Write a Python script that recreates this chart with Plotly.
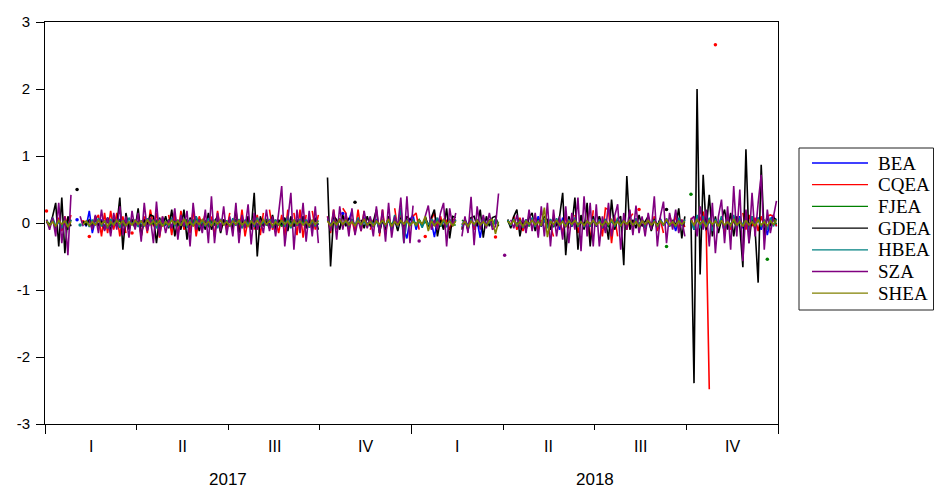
import plotly.graph_objects as go

n = None

quarter_labels = ["I", "II", "III", "IV", "I", "II", "III", "IV"]
year_labels = ["2017", "2018"]
y_ticks = [-3, -2, -1, 0, 1, 2, 3]
y_tick_text = ["-3", "-2", "-1", "0", "1", "2", "3"]
obs_per_quarter = 30

BEA = [
    .02,-.05,.05,-.08,.03,-.04,.06,-.02,.05,n,.05,n,.02,-.05,.18,-.15,.05,-.02,.04,-.06,.08,-.05,.02,-.04,.06,-.03,.05,-.08,.04,-.02,
    .03,-.05,.06,-.1,.04,-.02,.05,-.1,.08,-.03,.02,-.05,.07,-.04,.03,-.06,.05,-.02,.04,-.05,.06,-.08,.03,-.02,.05,-.04,.06,-.03,.02,-.05,
    .04,-.02,.05,-.06,.03,-.04,.08,-.05,.02,-.03,.06,-.04,.05,-.02,.03,-.06,.04,-.05,.07,-.03,.02,-.04,.05,-.06,.03,-.02,.06,-.05,.04,-.03,
    n,n,.05,-.03,.08,-.05,n,.14,n,.04,.18,n,.05,-.06,.08,-.02,.04,-.05,.06,-.1,.03,-.04,.08,-.12,.05,-.02,.06,-.08,-.23,.05,
    .12,-.1,.05,-.05,.08,-.04,.02,-.21,.06,-.03,.05,-.06,.04,-.02,.04,n,-.03,.05,-.04,.08,-.05,.03,-.22,.06,-.02,.04,-.05,.03,-.03,n,
    n,.04,-.03,.06,-.05,.02,-.04,.05,-.02,.06,-.04,.1,-.05,.03,-.02,.05,-.06,.04,-.1,.08,-.03,.02,-.05,.06,-.04,.05,-.08,.03,-.02,.04,
    -.05,.06,-.03,.04,-.06,.05,-.02,.03,-.05,.06,-.04,.02,-.03,.05,-.06,.04,-.02,.03,-.1,.05,-.04,.06,-.03,.02,-.05,.04,-.12,.05,-.02,.04,
    n,.05,-.1,.08,-.05,.1,-.12,.05,-.08,.04,-.03,.06,-.15,.08,-.05,.03,-.06,.1,-.08,.05,-.04,.06,-.02,.08,-.1,.05,-.18,.04,.12,-.05,
]

CQEA = [
    .18,n,.05,-.1,.08,-.12,.1,-.05,.12,n,n,n,.02,n,-.2,n,.05,.12,-.2,.15,-.15,.18,-.1,.15,-.2,.1,-.15,n,-.15,n,
    .12,-.2,.1,-.15,.2,-.05,.15,-.22,.1,n,.12,-.18,.15,-.2,.18,-.1,.05,-.15,.2,-.2,.1,-.05,.15,n,.1,-.2,.18,-.12,.05,-.1,
    .15,n,.1,-.15,.2,-.2,.05,n,-.1,.12,-.18,.15,n,.2,-.1,.05,-.15,.12,-.2,.2,n,.15,-.18,.2,-.22,.12,n,.18,-.1,.12,
    n,n,.1,-.15,.2,-.1,n,.22,.15,-.1,.05,-.15,.2,-.12,.18,n,-.1,.05,n,-.2,.2,-.15,.1,n,.22,-.1,.15,-.18,.1,n,
    .1,.15,-.1,n,-.2,n,.05,.15,-.05,.1,-.08,.05,-.1,.05,.05,n,-.08,.02,-.05,.08,-.1,.05,-.02,.06,-.05,n,n,-.21,n,n,
    n,.05,-.05,.1,-.1,.08,-.12,.05,-.03,n,.1,-.1,.05,n,.02,-.05,-.2,n,.05,-.15,.1,-.08,n,.12,-.15,.1,n,.2,-.28,.19,
    n,.1,-.2,.22,.2,-.3,.1,-.2,n,.05,-.1,.08,.14,n,.2,n,-.1,.05,-.08,.1,-.12,.05,-.15,n,.12,-.05,.1,-.08,.05,-.06,
    n,.08,-.05,.1,.05,.17,-.1,-2.48,n,2.66,n,.1,-.15,.12,-.1,.05,-.08,n,.15,-.1,.12,-.05,.08,-.12,.1,-.05,.1,.12,.1,-.05,
]

FJEA = [
    .03,-.02,.05,-.08,.04,-.05,.02,-.1,.05,n,n,n,.02,-.03,.04,-.02,.05,-.04,.03,-.06,.02,-.03,.05,-.02,.04,-.05,.03,-.02,.06,-.04,
    .02,-.05,.04,-.03,.06,-.02,.03,-.05,.04,-.02,.05,-.06,.03,-.04,.02,-.05,.06,-.03,.04,-.02,.05,-.04,.03,-.05,.02,-.03,.04,-.06,.05,-.02,
    .03,-.04,.05,-.02,.04,-.06,.03,-.02,.05,-.04,.02,-.03,.06,-.05,.04,-.02,.03,-.05,.04,-.03,.02,-.04,.05,-.02,.03,-.06,.04,-.03,.05,-.02,
    n,n,.04,-.03,.05,-.02,.03,-.05,.04,-.02,.06,-.04,.03,-.02,.05,-.03,.04,-.06,.02,-.03,.05,-.04,.03,-.02,.04,-.05,.03,-.02,.05,-.03,
    .04,-.02,.05,-.03,.02,-.04,.06,-.02,.03,-.05,.04,-.02,.05,-.03,-.03,n,.04,.02,-.04,.05,-.03,.04,-.02,.03,-.05,.04,-.02,.06,-.03,n,
    n,.03,-.04,.05,-.02,.04,-.03,.02,-.05,.06,-.02,.03,-.04,.05,-.03,.02,-.06,.04,-.02,.03,-.05,.04,-.03,.02,-.04,.05,-.02,.03,-.05,.04,
    -.03,.05,-.02,.04,-.06,.03,-.02,.05,-.04,.03,-.02,.04,-.05,.03,-.02,.06,-.04,.03,-.02,.05,-.03,.04,n,-.35,n,.03,-.02,.04,-.03,.02,
    n,.43,n,.05,-.03,.06,-.04,.03,-.05,.04,-.02,.05,-.06,.03,-.02,.04,-.05,.03,-.04,.05,-.02,.03,-.04,.05,-.03,n,-.54,n,.04,-.02,
]

GDEA = [
    .02,-.05,.1,.3,-.35,.38,-.45,.1,-.05,n,.5,n,.02,-.03,.05,-.08,.1,-.05,.03,-.1,.08,-.12,.05,-.05,.38,-.4,.15,-.1,.05,-.08,
    .22,-.2,.05,-.02,.12,.1,-.3,.08,-.05,.1,-.08,.2,-.2,.05,-.1,.2,-.25,.08,-.05,.1,-.12,.05,-.1,.15,-.1,.02,.1,-.15,.05,-.02,
    .05,-.1,.2,-.15,.05,-.05,.1,-.1,.45,-.5,.1,-.05,.02,-.08,.12,-.1,.05,-.02,.08,-.12,.1,-.05,.02,-.05,.1,-.08,.05,-.1,.08,-.1,
    n,n,.68,-.65,.1,.05,-.1,.12,-.05,.08,n,.31,n,.05,-.08,.1,-.05,.02,.2,-.15,.05,-.1,.1,-.08,.05,-.12,.08,-.05,.1,.05,
    .05,n,n,n,.1,-.05,.08,.2,-.2,.05,-.1,.22,-.23,.1,.08,n,-.1,.05,-.1,.08,.1,-.05,.2,-.22,.1,-.05,.08,.1,-.05,n,
    n,.05,-.08,.1,.2,-.2,.05,-.1,.08,.15,-.12,.05,-.05,.1,.05,-.1,.08,-.05,.1,.45,-.48,.1,-.05,.38,-.4,.12,-.1,.3,-.35,.1,
    -.05,.1,-.08,.05,-.25,.35,-.1,.05,.1,-.63,.7,-.1,.05,-.08,.12,-.05,.02,.1,-.12,.05,-.05,.08,n,.2,n,.05,-.05,.22,-.23,.1,
    n,.05,-2.39,2.0,-.77,.72,-.1,.42,-.2,.1,-.15,.05,.2,-.1,.15,-.2,.1,-.05,-.66,1.1,-.3,.1,-.1,-.89,.87,-.2,.1,-.05,.08,.05,
]

HBEA = [
    .05,-.06,.08,-.04,.03,-.08,.06,-.05,.04,n,n,-.03,n,.04,-.06,.05,-.03,.07,-.05,.04,-.08,.06,-.02,.05,-.07,.04,-.05,.08,-.03,.05,
    -.06,.04,-.05,.07,-.03,.05,-.08,.06,-.04,.03,-.06,.08,-.05,.04,-.03,.06,-.07,.05,-.04,.1,-.06,.03,-.05,.07,-.04,.05,-.08,.06,-.03,.04,
    -.05,.07,-.04,.06,-.08,.05,-.03,.04,-.06,.08,-.05,.03,-.04,.06,-.07,.05,-.03,.04,-.06,.1,-.08,.05,-.04,.06,-.03,.05,-.07,.04,-.05,.04,
    n,n,.06,-.04,.05,-.08,.07,-.03,.04,-.06,.05,-.04,.08,-.05,.03,-.06,.07,-.04,.05,-.1,.06,-.05,.04,-.08,.12,-.06,.23,-.3,.05,-.04,
    .06,-.05,.04,-.07,.05,-.03,.06,-.04,.08,-.05,.03,-.06,.05,-.04,.05,n,-.06,.05,-.1,.06,-.04,.05,-.03,.07,-.05,.04,-.06,.05,-.03,n,
    n,.05,-.04,.06,-.05,.03,-.07,.05,-.04,.08,-.06,.04,-.03,.05,-.08,.06,-.04,.07,-.05,.03,-.06,.05,-.04,.08,-.05,.03,-.06,.04,-.05,.06,
    -.04,.05,-.07,.06,-.03,.04,-.06,.08,-.05,.04,-.03,.06,-.05,.07,-.04,.05,-.08,.06,-.03,.04,-.06,.05,-.04,.07,-.05,.03,-.06,.08,-.04,.05,
    n,.06,-.1,.12,-.08,.1,-.05,.08,-.12,.06,-.04,.1,-.08,.05,-.06,.12,-.1,.08,-.05,.06,-.12,.1,-.04,.08,-.06,.05,-.1,.08,-.05,.06,
]

SZA = [
    .05,-.1,.08,-.2,.3,-.3,.1,-.48,.42,n,n,.1,-.05,n,.04,-.1,.12,-.15,.2,-.12,.08,-.2,.15,-.1,.25,-.18,.1,-.22,.18,-.1,
    .15,-.28,.3,-.12,.08,-.3,.32,-.2,.1,-.15,.05,-.08,.22,-.25,.12,-.05,.18,-.35,.3,-.1,.05,-.15,.2,-.3,.4,-.3,.15,-.12,.25,-.18,
    .1,-.2,.3,-.3,.12,-.08,.28,-.32,.15,-.1,.05,-.15,.2,-.12,.1,-.2,.15,.55,-.35,.1,.45,-.4,.2,-.15,.3,-.28,.18,-.2,.25,-.3,
    n,n,.1,-.12,.2,-.25,.25,-.1,.15,-.2,.22,-.18,.05,-.12,.18,-.08,.1,-.2,.25,-.15,.2,-.28,.3,-.22,.1,-.05,.38,-.3,.4,-.3,
    .26,n,-.27,n,.1,.26,-.1,.05,-.1,.15,.3,-.35,.22,-.05,.15,n,-.2,.1,-.15,.39,-.33,.25,-.1,.12,-.08,.15,-.1,-.05,.44,n,
    -.48,n,.05,-.08,.12,-.1,.08,-.15,.2,-.12,.15,-.22,.25,-.2,.3,-.35,.2,-.2,.1,-.25,.25,-.3,.15,-.1,.38,-.42,.4,-.2,.3,-.35,
    .28,-.35,.1,-.15,.3,-.2,.1,.28,-.4,.15,-.1,.2,-.18,.26,-.15,.1,-.2,.15,-.1,.4,-.35,.1,.32,-.3,.15,-.1,.2,-.15,.05,-.2,
    n,.05,.1,-.2,.25,-.1,.2,-.35,.3,-.45,.1,.35,-.3,.25,-.4,.55,-.2,.5,-.57,.2,-.3,.45,-.2,.3,.72,-.4,.2,-.15,.1,.33,
]

SHEA = [
    .03,-.04,.02,-.05,.04,-.02,.03,-.06,.02,n,n,n,-.02,.03,-.04,.02,-.03,.04,-.02,.03,-.05,.02,-.03,.04,-.02,.03,-.04,.02,-.03,.04,
    -.02,.03,-.04,.05,-.02,.03,-.03,.04,-.05,.02,-.03,.04,-.02,.03,-.04,.06,-.03,.02,-.04,.03,-.02,.05,-.03,.02,-.04,.03,-.02,.04,-.03,.02,
    -.04,.03,-.02,.04,-.03,.02,-.05,.03,-.02,.04,-.03,.05,-.02,.03,-.04,.02,-.03,.04,-.02,.03,-.05,.04,-.02,.03,-.03,.02,-.04,.05,-.02,.03,
    n,n,.03,-.04,.02,-.03,.05,-.02,.04,-.03,.02,-.04,.03,-.02,.05,-.03,.02,-.04,.03,-.02,.04,-.03,.06,-.05,.02,-.03,.04,-.02,.03,-.04,
    .02,-.03,.04,-.02,.1,-.12,.03,-.04,.02,-.03,.05,-.02,.03,-.04,.03,n,-.02,.02,-.05,.03,-.02,.04,-.03,.02,-.04,.03,.05,-.16,.02,n,
    n,.03,-.02,.04,-.03,.02,-.05,.03,-.02,.04,-.03,.02,-.04,.23,-.21,.03,-.02,.04,-.03,.02,-.05,.03,-.02,.04,-.03,.02,-.04,.03,-.02,.04,
    -.03,.02,-.04,.03,-.02,.05,-.03,.02,-.04,.03,-.02,.04,-.03,.02,-.05,.03,-.02,.04,-.03,.02,-.04,.03,-.02,.05,-.03,.02,-.04,.03,-.02,.03,
    n,.04,-.03,.05,-.02,.03,-.06,.04,-.02,.03,-.05,.04,-.03,.02,-.04,.06,-.03,.02,-.05,.04,-.03,.02,-.04,.05,-.03,.02,-.04,.03,-.02,.04,
]

series_names = ["BEA", "CQEA", "FJEA", "GDEA", "HBEA", "SZA", "SHEA"]
series_data = [BEA, CQEA, FJEA, GDEA, HBEA, SZA, SHEA]
series_colors = ["#0000FF", "#FF0000", "#008000", "#000000", "#008080", "#800080", "#808000"]

N = len(BEA)
for s in series_data:
    assert len(s) == N, len(s)
x = [(i + 0.5) / obs_per_quarter for i in range(N)]
n_quarters = len(quarter_labels)

fig = go.Figure()
for name, vals, col in zip(series_names, series_data, series_colors):
    fig.add_trace(go.Scatter(x=x, y=vals, mode="lines", name=name,
                             line=dict(color=col, width=1.6), connectgaps=False,
                             showlegend=False, hoverinfo="skip"))
    iso = [i for i, v in enumerate(vals) if v is not None
           and (i == 0 or vals[i - 1] is None) and (i == N - 1 or vals[i + 1] is None)]
    fig.add_trace(go.Scatter(x=[x[i] for i in iso], y=[vals[i] for i in iso],
                             mode="markers", marker=dict(color=col, size=3.5),
                             showlegend=False, hoverinfo="skip"))

W, H = 935, 488
L, R, T, B = 45, 157, 22, 64
pw, ph = W - L - R, H - T - B

def px_x(p):
    return (p - L) / pw

def px_y(p):
    return (H - B - p) / ph

sans = "Liberation Sans, Arial, sans-serif"
serif = "Liberation Serif, Times New Roman, serif"

annotations = []
for k, lab in enumerate(quarter_labels):
    annotations.append(dict(x=k + 0.5, y=px_y(447), xref="x", yref="paper", text=lab,
                            showarrow=False, font=dict(family=sans, size=16, color="black"),
                            xanchor="center", yanchor="middle"))
for k, lab in enumerate(year_labels):
    annotations.append(dict(x=4 * k + 2, y=px_y(479), xref="x", yref="paper", text=lab,
                            showarrow=False, font=dict(family=sans, size=17, color="black"),
                            xanchor="center", yanchor="middle"))

shapes = [dict(type="rect", xref="paper", yref="paper", x0=px_x(799), x1=px_x(933.5),
               y0=px_y(310), y1=px_y(148), line=dict(color="#222222", width=1),
               fillcolor="white", layer="above")]
for k, (name, col) in enumerate(zip(series_names, series_colors)):
    yc = 163 + 21.7 * k
    shapes.append(dict(type="line", xref="paper", yref="paper", x0=px_x(812), x1=px_x(868),
                       y0=px_y(yc), y1=px_y(yc), line=dict(color=col, width=1.3), layer="above"))
    annotations.append(dict(x=px_x(876), y=px_y(yc), xref="paper", yref="paper", text=name,
                            showarrow=False, font=dict(family=serif, size=19, color="black"),
                            xanchor="left", yanchor="middle"))

fig.update_layout(
    width=W, height=H, autosize=False,
    margin=dict(l=L, r=R, t=T, b=B, pad=0),
    paper_bgcolor="white", plot_bgcolor="white",
    showlegend=False,
    xaxis=dict(range=[0, n_quarters], showgrid=False, zeroline=False,
               showline=True, linecolor="black", linewidth=1, mirror=True,
               tickmode="array", tickvals=[0, 4, 8], ticks="outside", ticklen=9,
               tickcolor="black", showticklabels=False,
               minor=dict(tickmode="linear", tick0=0, dtick=1, ticks="outside",
                          ticklen=5, tickcolor="black", showgrid=False)),
    yaxis=dict(range=[-3, 3], showgrid=False, zeroline=False,
               showline=True, linecolor="black", linewidth=1, mirror=True,
               tickmode="array", tickvals=y_ticks, ticktext=y_tick_text,
               ticks="outside", ticklen=8,
               tickcolor="black", ticklabelstandoff=3,
               tickfont=dict(family=sans, size=15, color="black")),
    annotations=annotations,
    shapes=shapes,
)

fig.write_html("out.html", config={"displayModeBar": False},
               post_script="document.body.style.margin='0';document.body.style.padding='0';")
